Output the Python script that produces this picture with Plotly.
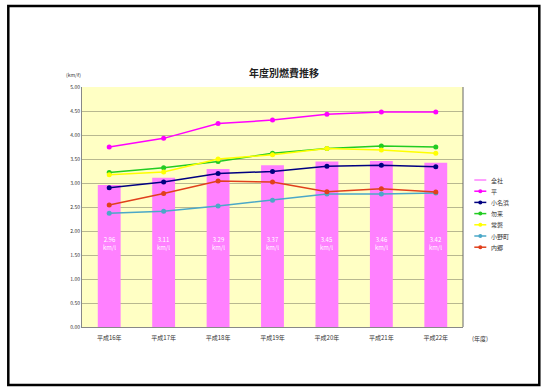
import plotly.graph_objects as go

years = ["平成16年", "平成17年", "平成18年", "平成19年", "平成20年", "平成21年", "平成22年"]
total = [2.96, 3.11, 3.29, 3.37, 3.45, 3.46, 3.42]
series_names = ["平", "小名浜", "勿来", "常磐", "小野町", "内郷"]
s_taira = [3.75, 3.93, 4.24, 4.31, 4.43, 4.48, 4.48]
s_onahama = [2.90, 3.02, 3.20, 3.24, 3.35, 3.37, 3.34]
s_nakoso = [3.22, 3.32, 3.45, 3.62, 3.72, 3.77, 3.75]
s_joban = [3.17, 3.23, 3.50, 3.59, 3.72, 3.69, 3.62]
s_ono = [2.37, 2.41, 2.52, 2.64, 2.77, 2.77, 2.79]
s_uchigo = [2.54, 2.78, 3.04, 3.02, 2.82, 2.88, 2.81]
y_ticks = [0, 0.5, 1.0, 1.5, 2.0, 2.5, 3.0, 3.5, 4.0, 4.5, 5.0]

colors = ["#FF00FF", "#000080", "#22CC22", "#FFFF00", "#4BA8C8", "#E0401C"]
values = [s_taira, s_onahama, s_nakoso, s_joban, s_ono, s_uchigo]
bar_color = "#FF80FF"

FONT = "Noto Sans CJK JP"
fig = go.Figure()
fig.add_trace(go.Bar(x=years, y=total, name="全社", showlegend=False,
                     marker=dict(color=bar_color, line=dict(width=0))))
for name, vals, col in zip(series_names, values, colors):
    fig.add_trace(go.Scatter(x=years, y=vals, name=name, mode="lines+markers", showlegend=False,
                             line=dict(color=col, width=1.5),
                             marker=dict(color=col, size=5)))

for yr, v in zip(years, total):
    fig.add_annotation(x=yr, y=1.75, text=f"{v:.2f}<br>km/l", showarrow=False,
                       font=dict(color="white", size=6, family=FONT))

L, R, T, B = 81.7, 462.7, 87, 327
W, H = 547, 389
def px(x):
    return (x - L) / (R - L)
def py(y):
    return (B - y) / (B - T)

# custom legend
leg_names = ["全社"] + series_names
leg_colors = [bar_color] + colors
for i, (nm, col) in enumerate(zip(leg_names, leg_colors)):
    yy = 180 + i * 11.2
    fig.add_shape(type="line", xref="paper", yref="paper", x0=px(474), x1=px(486),
                  y0=py(yy), y1=py(yy), line=dict(color=col, width=1.5))
    if i > 0:
        fig.add_shape(type="circle", xref="paper", yref="paper", x0=px(478), x1=px(482),
                      y0=py(yy + 2), y1=py(yy - 2), line=dict(color=col, width=0), fillcolor=col)
    fig.add_annotation(xref="paper", yref="paper", x=px(489), y=py(yy), text=nm,
                       xanchor="left", yanchor="middle", showarrow=False,
                       font=dict(size=6, family=FONT, color="#333"))

fig.add_shape(type="rect", xref="paper", yref="paper",
              x0=px(8), x1=px(539), y0=py(385), y1=py(6),
              line=dict(color="black", width=2.5), fillcolor="rgba(0,0,0,0)", layer="above")
fig.add_annotation(xref="paper", yref="paper", x=px(284), y=py(72), text="<b>年度別燃費推移</b>",
                   xanchor="center", yanchor="middle",
                   showarrow=False, font=dict(size=10, family=FONT, color="#222"))
fig.add_annotation(xref="paper", yref="paper", x=px(73), y=py(75), text="(km/ℓ)",
                   xanchor="center", yanchor="middle",
                   showarrow=False, font=dict(size=5, family=FONT, color="#333"))
fig.add_annotation(xref="paper", yref="paper", x=px(480), y=py(338), text="(年度)",
                   xanchor="center", yanchor="middle",
                   showarrow=False, font=dict(size=6, family=FONT, color="#333"))

fig.update_layout(
    width=W, height=H,
    margin=dict(l=L, r=W - R, t=T, b=H - B),
    paper_bgcolor="white", plot_bgcolor="#FFFFC4",
    bargap=0.58,
    showlegend=False,
    font=dict(family=FONT),
)
fig.update_yaxes(range=[0, 5], tickvals=y_ticks, ticktext=[f"{t:.2f}" for t in y_ticks],
                 showgrid=True, gridcolor="#B8B890", gridwidth=1,
                 showline=True, linecolor="#888", tickfont=dict(size=5, color="#333"),
                 zeroline=False)
fig.update_xaxes(showline=True, linecolor="#888", mirror=False, ticklabelstandoff=5,
                 tickfont=dict(size=6, color="#333"), ticks="", showgrid=False)
fig.add_shape(type="line", xref="paper", yref="paper", x0=1, x1=1, y0=0, y1=1,
              line=dict(color="#666", width=1))
fig.write_html("out.html")
